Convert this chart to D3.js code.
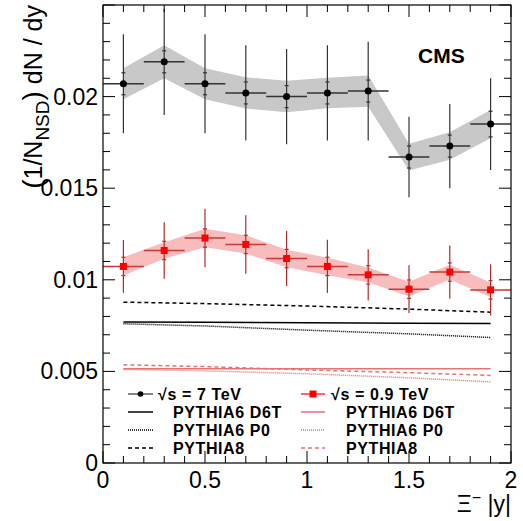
<!DOCTYPE html>
<html>
<head>
<meta charset="utf-8">
<script src="https://cdn.jsdelivr.net/npm/d3@7"></script>
<style>
  body { margin: 0; background: #fff; }
  svg { font-family: "Liberation Sans", Arial, sans-serif; }
</style>
</head>
<body>
<div id="chart"></div>
<script>
// bin centres in |y|, each bin is 0.2 wide
const yBins = [0.1, 0.3, 0.5, 0.7, 0.9, 1.1, 1.3, 1.5, 1.7, 1.9];
const binHalf = 0.1;

// sqrt(s) = 7 TeV
const val7  = [0.0207, 0.0219, 0.0207, 0.0202, 0.0200, 0.0202, 0.0203, 0.0167, 0.0173, 0.0185];
const tot7  = [0.0027, 0.0029, 0.0027, 0.0026, 0.0026, 0.0026, 0.0027, 0.0022, 0.0023, 0.0025];
const stat7 = [0.0006, 0.0006, 0.0006, 0.0006, 0.0006, 0.0006, 0.0006, 0.0006, 0.0006, 0.0007];
const sys7  = [0.00085, 0.0009, 0.00085, 0.00085, 0.00086, 0.00083, 0.00085, 0.00073, 0.00075, 0.00077];

// sqrt(s) = 0.9 TeV
const val09  = [0.01073, 0.0116, 0.01228, 0.01193, 0.01116, 0.01073, 0.01027, 0.00949, 0.01042, 0.00945];
const tot09  = [0.00144, 0.00154, 0.0016, 0.0016, 0.0015, 0.00145, 0.0014, 0.0013, 0.00145, 0.0014];
const stat09 = [0.0005, 0.0005, 0.0005, 0.0005, 0.0005, 0.0005, 0.0005, 0.0005, 0.0005, 0.0005];
const sys09  = [0.0005, 0.00045, 0.0005, 0.0005, 0.00048, 0.00048, 0.0004, 0.0004, 0.0004, 0.0004];

// PYTHIA predictions
const mcX     = [0.1, 0.5, 1.0, 1.5, 1.9];
const d6t7    = [0.00769, 0.00768, 0.00766, 0.00763, 0.00761];
const p0_7    = [0.00760, 0.00748, 0.00725, 0.00705, 0.00685];
const py8_7   = [0.00878, 0.00870, 0.00857, 0.00840, 0.00823];
const d6t09   = [0.00514, 0.00514, 0.00514, 0.00514, 0.00514];
const p0_09   = [0.00511, 0.00503, 0.00487, 0.00465, 0.00443];
const py8_09  = [0.00536, 0.00526, 0.00508, 0.00493, 0.00478];

const xTicks = [0, 0.5, 1, 1.5, 2];
const yTicks = [0, 0.005, 0.01, 0.015, 0.02];

const W = 523, H = 521;
const pL = 103, pR = 511, pT = 5, pB = 463;

const svg = d3.select('#chart').append('svg')
  .attr('width', W).attr('height', H);

const x = d3.scaleLinear().domain([0, 2]).range([pL, pR]);
const y = d3.scaleLinear().domain([0, 0.025]).range([pB, pT]);

const black = '#000', grey = '#333';
const red = '#ff0000', redErr = '#b02c2c', redMC = '#e57373';
const bandGrey = '#c8c8c8', bandPink = '#f9bcbc';

// systematic bands
function band(vals, errs, fill) {
  const area = d3.area()
    .x((d, i) => x(yBins[i]))
    .y0((d, i) => y(vals[i] - errs[i]))
    .y1((d, i) => y(vals[i] + errs[i]));
  svg.append('path').datum(vals).attr('d', area).attr('fill', fill);
}
band(val7, sys7, bandGrey);
band(val09, sys09, bandPink);

// model curves
const mcLine = vals => d3.line().x((d, i) => x(mcX[i])).y(d => y(d))(vals);
const styles = {
  solid: null,
  dotted: '1,1',
  dashed: '4,3'
};
const curves = [
  [d6t7, black, 'solid'], [p0_7, black, 'dotted'], [py8_7, black, 'dashed'],
  [d6t09, redMC, 'solid'], [p0_09, redMC, 'dotted'], [py8_09, redMC, 'dashed']
];
curves.forEach(c => {
  svg.append('path')
    .attr('d', mcLine(c[0]))
    .attr('fill', 'none')
    .attr('stroke', c[1])
    .attr('stroke-width', 1.5)
    .attr('stroke-dasharray', styles[c[2]]);
});

// clip for data that runs past the frame
svg.append('clipPath').attr('id', 'frame')
  .append('rect').attr('x', pL).attr('y', pT)
  .attr('width', pR - pL).attr('height', pB - pT);

function dataSet(vals, tot, stat, errCol, hCol, marker) {
  const g = svg.append('g').attr('clip-path', 'url(#frame)');
  yBins.forEach((b, i) => {
    const cx = x(b), cy = y(vals[i]);
    // total error
    g.append('line').attr('x1', cx).attr('x2', cx)
      .attr('y1', y(vals[i] - tot[i])).attr('y2', y(vals[i] + tot[i]))
      .attr('stroke', errCol).attr('stroke-width', 1.2);
    // stat error ticks
    [vals[i] - stat[i], vals[i] + stat[i]].forEach(v => {
      g.append('line').attr('x1', cx - 2).attr('x2', cx + 2)
        .attr('y1', y(v)).attr('y2', y(v))
        .attr('stroke', errCol).attr('stroke-width', 1.2);
    });
    // bin width
    g.append('line').attr('x1', x(b - binHalf)).attr('x2', x(b + binHalf))
      .attr('y1', cy).attr('y2', cy)
      .attr('stroke', hCol).attr('stroke-width', 1.5);
    marker(g, cx, cy);
  });
}
const dot = (g, cx, cy) => g.append('circle').attr('cx', cx).attr('cy', cy)
  .attr('r', 3.5).attr('fill', black);
const square = (g, cx, cy) => g.append('rect').attr('x', cx - 3.5).attr('y', cy - 3.5)
  .attr('width', 7).attr('height', 7).attr('fill', red);

dataSet(val7, tot7, stat7, grey, grey, dot);
dataSet(val09, tot09, stat09, redErr, '#c43a3a', square);

// frame and ticks on all four sides
svg.append('rect').attr('x', pL).attr('y', pT)
  .attr('width', pR - pL).attr('height', pB - pT)
  .attr('fill', 'none').attr('stroke', black).attr('stroke-width', 1.2);

const ax = svg.append('g').attr('stroke', black).attr('stroke-width', 1);
d3.range(0, 2.0001, 0.1).forEach(t => {
  const major = Math.abs(t * 2 - Math.round(t * 2)) < 1e-6;
  const len = major ? 12 : 7;
  ax.append('line').attr('x1', x(t)).attr('x2', x(t)).attr('y1', pB).attr('y2', pB - len);
  ax.append('line').attr('x1', x(t)).attr('x2', x(t)).attr('y1', pT).attr('y2', pT + len);
});
d3.range(0, 0.02501, 0.001).forEach(t => {
  const major = Math.abs(t / 0.005 - Math.round(t / 0.005)) < 1e-6;
  const len = major ? 12 : 7;
  ax.append('line').attr('y1', y(t)).attr('y2', y(t)).attr('x1', pL).attr('x2', pL + len);
  ax.append('line').attr('y1', y(t)).attr('y2', y(t)).attr('x1', pR).attr('x2', pR - len);
});

// tick labels
svg.append('g').selectAll('text').data(xTicks).join('text')
  .attr('x', d => x(d)).attr('y', 488)
  .attr('text-anchor', 'middle').attr('font-size', 23)
  .text(d => d3.format('~g')(d));
svg.append('g').selectAll('text').data(yTicks).join('text')
  .attr('x', 98).attr('y', d => y(d) + 8)
  .attr('text-anchor', 'end').attr('font-size', 23)
  .text(d => d === 0 ? '0' : d3.format('~g')(d));

// axis titles
const xt = svg.append('text').attr('x', pR).attr('y', 512)
  .attr('text-anchor', 'end').attr('font-size', 23);
xt.append('tspan').text('Ξ');
xt.append('tspan').attr('dy', -9).attr('font-size', 16).text('−');
xt.append('tspan').attr('dy', 9).text(' |y|');

const yt = svg.append('text')
  .attr('transform', 'translate(42,5) rotate(-90)')
  .attr('text-anchor', 'end').attr('font-size', 25);
yt.append('tspan').attr('font-size', 28).text('(');
yt.append('tspan').text('1/N');
yt.append('tspan').attr('dy', 7).attr('font-size', 19).text('NSD');
yt.append('tspan').attr('dy', -7).attr('font-size', 28).text(')');
yt.append('tspan').text(' dN / dy');

svg.append('text').attr('x', 418).attr('y', 63)
  .attr('font-size', 21).attr('font-weight', 'bold').text('CMS');

// legend
const legRows = [394, 412, 430, 448];
const leg = svg.append('g').attr('font-size', 16).attr('font-weight', 'bold')
  .attr('letter-spacing', 0.6);
function legendCol(x0, x1, textX, headX, col, mcCol, label, marker) {
  leg.append('line').attr('x1', x0).attr('x2', x1).attr('y1', legRows[0]).attr('y2', legRows[0])
    .attr('stroke', col).attr('stroke-width', 1.2);
  marker(leg, (x0 + x1) / 2, legRows[0]);
  leg.append('text').attr('x', headX).attr('y', legRows[0] + 6).text(label);
  [['solid', 'PYTHIA6 D6T'], ['dotted', 'PYTHIA6 P0'], ['dashed', 'PYTHIA8']].forEach((s, k) => {
    const yy = legRows[k + 1];
    leg.append('line').attr('x1', x0).attr('x2', x1).attr('y1', yy).attr('y2', yy)
      .attr('stroke', mcCol).attr('stroke-width', 1.5)
      .attr('stroke-dasharray', styles[s[0]]);
    leg.append('text').attr('x', textX).attr('y', yy + 6).text(s[1]);
  });
}
const legDot = (g, cx, cy) => g.append('circle').attr('cx', cx).attr('cy', cy).attr('r', 2.8).attr('fill', black);
const legSq = (g, cx, cy) => g.append('rect').attr('x', cx - 3.5).attr('y', cy - 3.5)
  .attr('width', 7).attr('height', 7).attr('fill', red);
legendCol(128, 153, 173, 158, grey, black, '√s = 7 TeV', legDot);
legendCol(301, 325, 346, 331, red, redMC, '√s = 0.9 TeV', legSq);
</script>
</body>
</html>
